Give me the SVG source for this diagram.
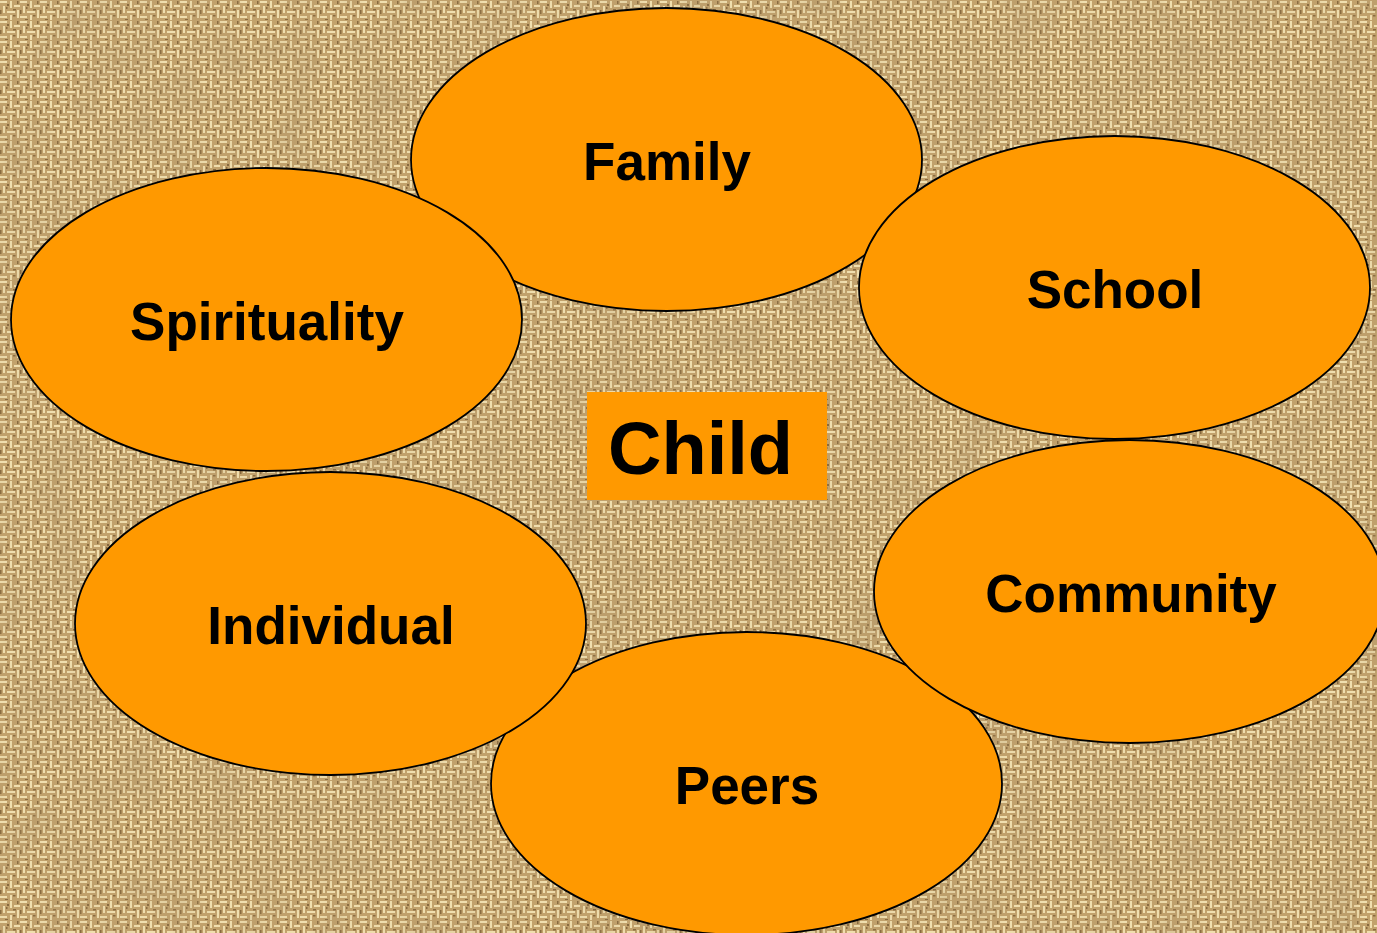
<svg xmlns="http://www.w3.org/2000/svg" width="1377" height="933" viewBox="0 0 1377 933">
<defs>
<style>
.node ellipse{fill:#FF9900;stroke:#000;stroke-width:1.8}
.lbl{font-family:"Liberation Sans",Arial,sans-serif;font-weight:bold;font-size:53px;fill:#000;text-anchor:middle}
.child{font-family:"Liberation Sans",Arial,sans-serif;font-weight:bold;font-size:74px;fill:#000}
</style>
<pattern id="weave" width="20" height="20" patternUnits="userSpaceOnUse">
<rect width="20" height="20" fill="#c2a26c"/>
<g fill="#f0dfaf">
<rect x="0" y="1" width="7" height="2"/>
<rect x="10" y="1" width="2" height="7"/>
<rect x="14" y="5" width="6" height="2"/>
<rect x="3" y="6" width="2" height="7"/>
<rect x="7" y="11" width="8" height="2"/>
<rect x="17" y="10" width="2" height="8"/>
<rect x="0" y="16" width="7" height="2"/>
<rect x="10" y="15" width="2" height="5"/>
</g>
<g fill="#7d5f36" opacity="0.85">
<rect x="7" y="4" width="2" height="2"/>
<rect x="13" y="9" width="3" height="1.5"/>
<rect x="0" y="10" width="1.5" height="4"/>
<rect x="5" y="19" width="3" height="1"/>
<rect x="17" y="1" width="1.5" height="3"/>
<rect x="13" y="15" width="2.5" height="1.5"/>
<rect x="6" y="7" width="1.5" height="2"/>
</g>
</pattern>
<filter id="mottle" x="0" y="0" width="100%" height="100%">
<feTurbulence type="fractalNoise" baseFrequency="0.025" numOctaves="3" seed="4" result="n"/>
<feColorMatrix in="n" type="matrix" values="0 0 0 0 0.42  0 0 0 0 0.3  0 0 0 0 0.15  0 0 0 1.2 -0.45"/>
</filter>
</defs>
<rect width="1377" height="933" fill="url(#weave)"/>
<rect width="1377" height="933" filter="url(#mottle)" opacity="0.55"/>
<g id="family" class="node"><ellipse cx="666.5" cy="159.5" rx="255.5" ry="151.5"/><text class="lbl" x="667" y="180">Family</text></g>
<g id="school" class="node"><ellipse cx="1114.5" cy="287.5" rx="255.5" ry="151.5"/><text class="lbl" x="1115" y="308">School</text></g>
<g id="spirituality" class="node"><ellipse cx="266.5" cy="319.5" rx="255.5" ry="151.5"/><text class="lbl" x="267" y="340">Spirituality</text></g>
<g id="peers" class="node"><ellipse cx="746.5" cy="783.5" rx="255.5" ry="151.5"/><text class="lbl" x="747" y="804">Peers</text></g>
<g id="individual" class="node"><ellipse cx="330.5" cy="623.5" rx="255.5" ry="151.5"/><text class="lbl" x="331" y="644">Individual</text></g>
<g id="community" class="node"><ellipse cx="1129.5" cy="591.5" rx="255.5" ry="151.5"/><text class="lbl" x="1131" y="612">Community</text></g>
<g id="child"><rect x="587" y="392" width="240" height="108" fill="#FF9900"/><text class="child" x="608" y="474">Child</text></g>
<g id="connectors"/>
</svg>
